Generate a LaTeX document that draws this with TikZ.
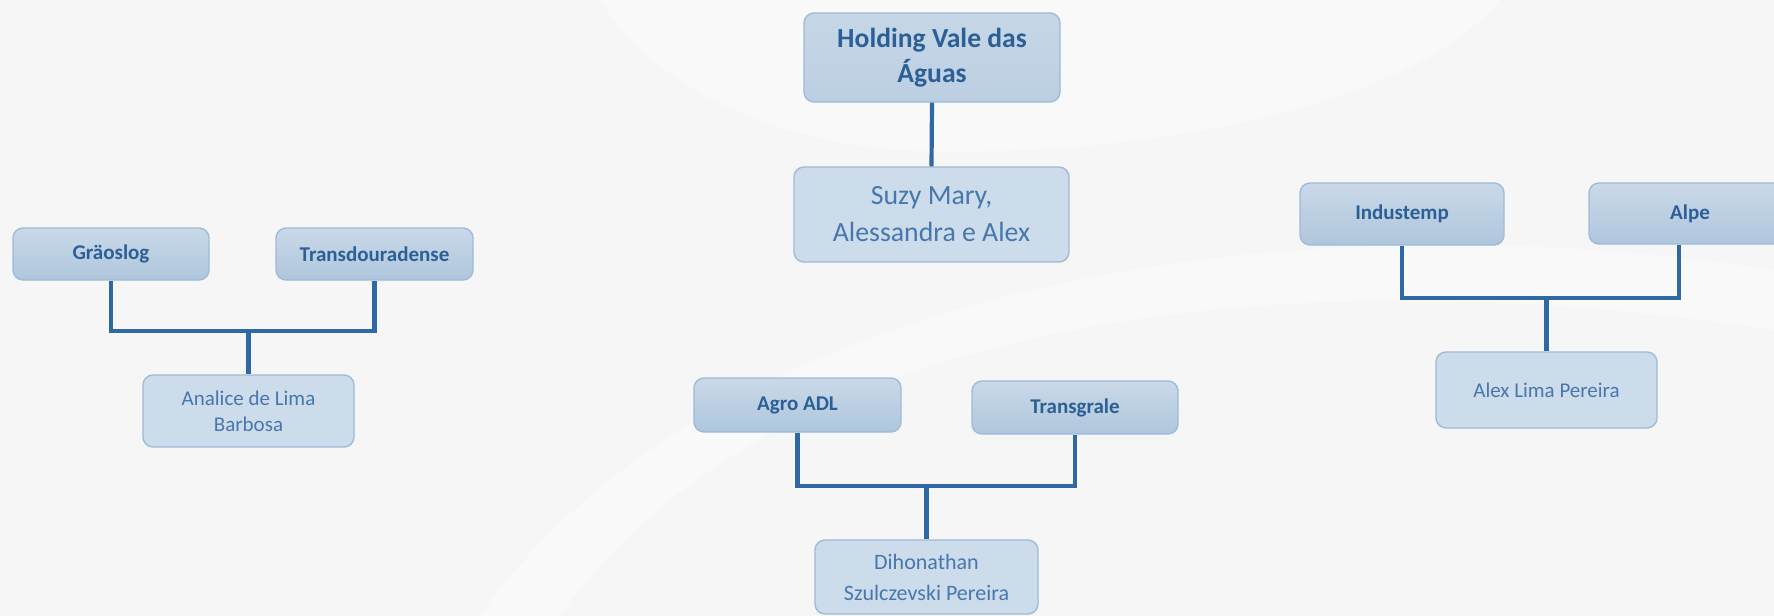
\documentclass[tikz,border=0pt]{standalone}
\usepackage{fontspec}
\setmainfont{Carlito}
\usetikzlibrary{calc}
\usetikzlibrary{positioning}

\definecolor{bgcol}{HTML}{F6F6F7}
\definecolor{linkblue}{HTML}{2F69A3}
\definecolor{boxline}{HTML}{9EBBD7}
\definecolor{firmtop}{HTML}{CAD9E8}
\definecolor{firmbot}{HTML}{AEC6DD}
\definecolor{headfill}{HTML}{BCCFE2}
\definecolor{personfill}{HTML}{CDDCEA}
\definecolor{boldblue}{HTML}{2C5F96}
\definecolor{textblue}{HTML}{4677AE}

\tikzset{
  firmbox/.style={draw=boxline, line width=0.7pt, rounded corners=5pt,
    top color=firmtop, bottom color=firmbot, text=boldblue, inner sep=0pt,
    align=center, font=\bfseries\fontsize{10.5}{13}\selectfont},
  personbox/.style={draw=boxline, line width=0.7pt, rounded corners=5pt,
    fill=personfill, text=textblue, inner sep=0pt, align=center,
    font=\fontsize{10.5}{13}\selectfont},
  link/.style={draw=linkblue, line width=2.1pt}
}

\begin{document}
\begin{tikzpicture}[x=0.5pt, y=-0.5pt]
    \useasboundingbox (0,0) rectangle (1774,616);
    \clip (0,0) rectangle (1774,616);
    \fill[bgcol] (0,0) rectangle (1774,616);
    \fill[white, opacity=0.35] (560,616) .. controls (760,330) and (1250,250) .. (1774,330) -- (1774,270) .. controls (1250,190) and (700,300) .. (480,616) -- cycle;
    \fill[white, opacity=0.4] (600,0) -- (1500,0) .. controls (1400,120) and (1100,160) .. (900,150) .. controls (760,140) and (650,80) .. cycle;

    % holding
    \node[firmbox, top color=headfill!85!white, bottom color=headfill, minimum width=128pt, minimum height=44.5pt,
      font=\bfseries\fontsize{13.8}{17.5}\selectfont] (hold) at (932,57.5) {Holding Vale das\\Águas};
    \node[personbox, minimum width=137.5pt, minimum height=47.5pt,
      font=\fontsize{13.9}{18.5}\selectfont] (suzy) at (931.5,214.5) {Suzy Mary,\\Alessandra e Alex};
    \draw[link] (hold.south) -- (suzy.north);

    % left group
    \node[firmbox, minimum width=98pt, minimum height=26pt] (gra) at (111,254) {Gräoslog};
    \node[firmbox, minimum width=98.5pt, minimum height=26pt] (trans) at (374.5,254) {Transdouradense};
    \node[personbox, minimum width=105.5pt, minimum height=36pt] (ana) at (248.5,411) {Analice de Lima\\Barbosa};
    \coordinate (jA) at (248.5,331);
    \draw[link] (gra.south) |- (jA) -| (trans.south);
    \draw[link] (jA) -- (ana.north);

    % middle group
    \node[firmbox, minimum width=103.5pt, minimum height=27pt] (agro) at (797.5,405) {Agro ADL};
    \node[firmbox, minimum width=103pt, minimum height=26.5pt] (tgr) at (1075,407.5) {Transgrale};
    \node[personbox, minimum width=111.5pt, minimum height=37pt,
      font=\fontsize{11}{15.5}\selectfont] (diho) at (926.5,577) {Dihonathan\\Szulczevski Pereira};
    \coordinate (jB) at (926.5,486);
    \draw[link] (agro.south) |- (jB) -| (tgr.south);
    \draw[link] (jB) -- (diho.north);

    % right group
    \node[firmbox, minimum width=102pt, minimum height=31pt] (indu) at (1402,214) {Industemp};
    \node[firmbox, minimum width=101pt, minimum height=30.5pt] (alpe) at (1690,213.5) {Alpe};
    \node[personbox, minimum width=110.5pt, minimum height=38pt] (alex) at (1546.5,390) {Alex Lima Pereira};
    \coordinate (jC) at (1546.5,298);
    \draw[link] (indu.south) |- (jC) -| ([xshift=-5.5pt]alpe.south);
    \draw[link] (jC) -- (alex.north);
\end{tikzpicture}
\end{document}
